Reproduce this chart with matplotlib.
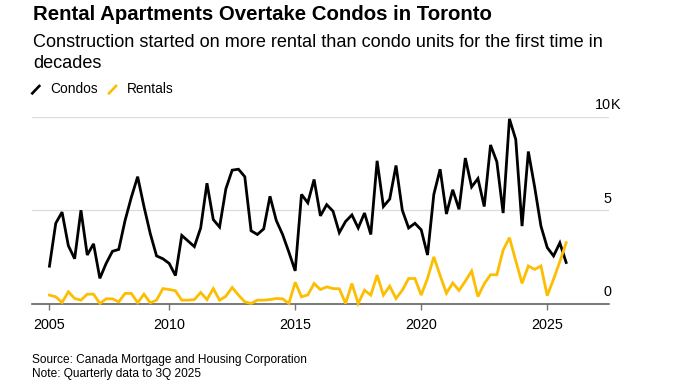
import matplotlib
matplotlib.use("Agg")
import matplotlib.pyplot as plt
import matplotlib.transforms as mtransforms
from matplotlib.lines import Line2D
import numpy as np

plt.rcParams['font.family'] = ['Liberation Sans', 'DejaVu Sans']

# ---- data (thousands of units started, quarterly, 1Q 2005 .. 3Q 2025) ----
first_year = 2005
first_quarter = 1
condos = [2.0, 4.3, 4.9, 3.1, 2.4, 5.0, 2.6, 3.2, 1.35, 2.15,
          2.8, 2.9, 4.45, 5.7, 6.8, 5.2, 3.75, 2.55, 2.4, 2.15,
          1.5, 3.65, 3.35, 3.05, 4.05, 6.45, 4.5, 4.1, 6.15, 7.15,
          7.2, 6.8, 3.9, 3.7, 4.0, 5.75, 4.45, 3.7, 2.75, 1.75,
          5.85, 5.4, 6.65, 4.7, 5.3, 4.95, 3.8, 4.4, 4.75, 4.05,
          4.85, 3.7, 7.65, 5.2, 5.6, 7.4, 5.0, 4.05, 4.3, 3.95,
          2.6, 5.85, 7.2, 4.8, 6.1, 5.05, 7.8, 6.25, 6.7, 5.2,
          8.5, 7.6, 4.85, 9.9, 8.8, 4.15, 8.15, 6.25, 4.15, 3.0,
          2.55, 3.25, 2.2]
rentals = [0.45, 0.36, 0.05, 0.63, 0.27, 0.18, 0.5, 0.5, 0.0, 0.25,
           0.25, 0.09, 0.54, 0.54, 0.04, 0.5, 0.04, 0.18, 0.8, 0.75,
           0.68, 0.18, 0.18, 0.21, 0.59, 0.21, 0.8, 0.18, 0.39, 0.86,
           0.45, 0.09, 0.0, 0.18, 0.18, 0.21, 0.27, 0.25, 0.0, 1.14,
           0.36, 0.46, 1.07, 0.75, 0.89, 0.8, 0.79, 0.0, 1.07, 0.0,
           0.71, 0.45, 1.52, 0.45, 0.93, 0.27, 0.71, 1.34, 1.34, 0.45,
           1.34, 2.5, 1.5, 0.55, 1.1, 0.7, 1.2, 1.74, 0.37, 1.06,
           1.54, 1.54, 2.86, 3.53, 2.3, 1.08, 2.01, 1.83, 2.01, 0.42,
           1.3, 2.25, 3.26]
year_ticks = [2005, 2010, 2015, 2020, 2025]
year_labels = ['2005', '2010', '2015', '2020', '2025']
y_ticks = [0, 5, 10]
y_labels = ['0', '5', '10']
series_names = ['Condos', 'Rentals']

# quarter-end positions in decimal years
n = len(condos)
t = first_year + (first_quarter - 1) * 0.25 + 0.25 * (np.arange(n) + 1)

BLACK = '#000000'
YELLOW = '#FDBD00'
W, H = 677, 391
fig = plt.figure(figsize=(W / 100, H / 100), dpi=100)

ax_left, ax_right = 32.3, 609.0
ax_top, ax_bottom = 117.0, 303.5
ax = fig.add_axes([ax_left / W, 1 - ax_bottom / H, (ax_right - ax_left) / W, (ax_bottom - ax_top) / H])

ax.set_xlim(2004.57, 2027.45)
ax.set_ylim(0, 10)

for yv in y_ticks[1:]:
    ax.axhline(yv, color='#dcdcdc', lw=0.9, zorder=1)

ax.plot(t, condos, color=BLACK, lw=2.0, zorder=3, clip_on=False, solid_joinstyle='miter')
ax.plot(t, rentals, color=YELLOW, lw=2.0, zorder=4, clip_on=False, solid_joinstyle='miter')

for s in ['top', 'right', 'left']:
    ax.spines[s].set_visible(False)
ax.spines['bottom'].set_color('#555555')
ax.spines['bottom'].set_linewidth(1.1)
ax.spines['bottom'].set_zorder(2)

# first tick sits at the first data point (start of series)
xt = [t[0]] + year_ticks[1:]
ax.set_xticks(xt)
ax.set_xticklabels(year_labels)
ax.tick_params(axis='x', length=4.5, width=1.0, color='#777777', pad=6,
               labelsize=10.4, labelcolor='#000000')
ax.set_yticks([])

# right-side value labels sitting above gridlines
trans = mtransforms.offset_copy(ax.get_yaxis_transform(), fig=fig, x=0, y=7.5, units='dots')
xr = (611 - ax_left) / (ax_right - ax_left)
for yv, lab in zip(y_ticks, y_labels):
    ax.text(xr, yv, lab, transform=trans, ha='right', va='baseline', fontsize=10.4, color='#000000')
    if yv == y_ticks[-1]:
        ax.text(xr, yv, 'K', transform=trans, ha='left', va='baseline', fontsize=10.4, color='#000000')

# titles
def fy(px):
    return 1 - px / H

fig.text(33 / W, fy(19.5), 'Rental Apartments Overtake Condos in Toronto',
         fontsize=14.7, fontweight='bold', ha='left', va='baseline')
fig.text(33 / W, fy(46.7), 'Construction started on more rental than condo units for the first time in',
         fontsize=13.05, ha='left', va='baseline')
fig.text(33 / W, fy(68.3), 'decades', fontsize=13.05, ha='left', va='baseline')

# legend
for (x0, col), name in zip([(32.3, BLACK), (109.0, YELLOW)], series_names):
    fig.add_artist(Line2D([x0 / W, (x0 + 7.0) / W], [fy(93.3), fy(86.0)], color=col, lw=1.9,
                          transform=fig.transFigure))
for x0, name in zip([50.7, 126.7], series_names):
    fig.text(x0 / W, fy(93.3), name, fontsize=9.9, ha='left', va='baseline')

# footer
fig.text(32.3 / W, fy(363.3), 'Source: Canada Mortgage and Housing Corporation', fontsize=8.55,
         ha='left', va='baseline')
fig.text(32.3 / W, fy(376.7), 'Note: Quarterly data to 3Q 2025', fontsize=8.55,
         ha='left', va='baseline')

fig.savefig('out.png', dpi=100, facecolor='white')
